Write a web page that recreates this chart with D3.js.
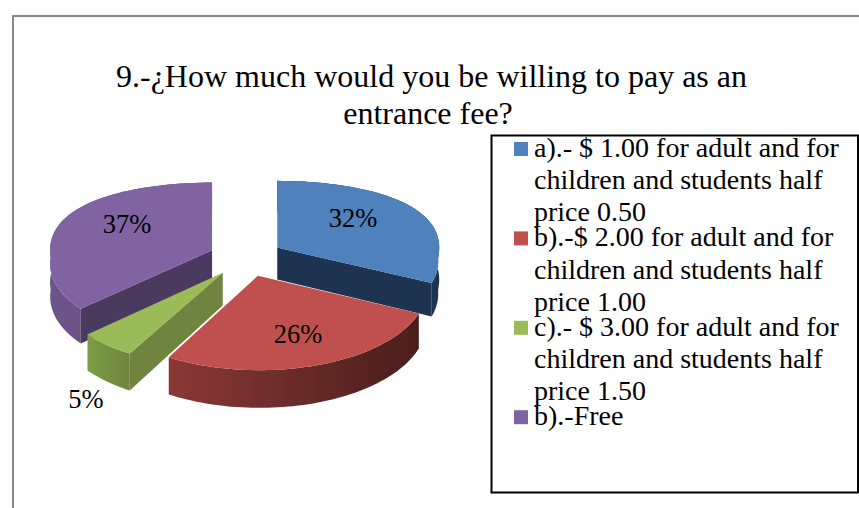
<!DOCTYPE html>
<html><head><meta charset="utf-8">
<script src="https://cdnjs.cloudflare.com/ajax/libs/d3/7.8.5/d3.min.js"></script>
<style>html,body{margin:0;padding:0;background:#fff;overflow:hidden}svg{display:block}text{font-family:"Liberation Serif",serif;fill:#000}</style>
</head><body><div id="c"></div>
<script>
const titleLines = ["9.-¿How much would you be willing to pay as an", "entrance fee?"];
const categories = [
  ["a).- $ 1.00 for adult and for", "children and students half", "price 0.50"],
  ["b).-$ 2.00 for adult and for", "children and students half", "price 1.00"],
  ["c).- $ 3.00 for adult and for", "children and students half", "price 1.50"],
  ["b).-Free"]
];
const values = [32, 26, 5, 37];
const topColors = ["#4F81BD", "#C0504D", "#9BBB59", "#8064A2"];
const faceColors = ["#1D334F", "#4A1E1C", "#6F853F", "#4B3A60"];
const wallFrom = ["#2A4568", "#8A3836", "#7E9C45", "#6D558A"];
const wallTo = ["#1D334F", "#4A1E1C", "#6F853F", "#5F4A7A"];
const labelPos = [[353, 227], [298, 343], [86, 408], [127, 233]];
const drawOrder = [3, 0, 2, 1];

const W = 859, H = 508;
const cx = 246, cy = 258, R = 162, k = 0.54, kFront = 0.49, kGrow = 0.0004, backP = 0.0015, frontP = 0.0009, explode = 37, depth = 32;
const svg = d3.select("#c").append("svg").attr("width", W).attr("height", H);
const defs = svg.append("defs");

svg.append("path").attr("d", `M13,${H}V16H${W}`).attr("fill", "none").attr("stroke", "#888").attr("stroke-width", 2);

const arcs = d3.pie().sort(null).value(d => d)(values);
function project(i, r, a, z) {
  const d = arcs[i], mid = (d.startAngle + d.endAngle) / 2;
  const X = r * Math.sin(a) + explode * Math.sin(mid);
  const Y = -r * Math.cos(a) - explode * Math.cos(mid);
  const s = 1 + frontP * Math.max(Y, 0);
  const dy = Y > 0 ? Y * (kFront + kGrow * Y) : k * Y / (1 - backP * Y);
  return [cx + X * s, cy + dy + z * s];
}
const line = d3.line();
const rim = (i, z) => d3.range(0, 61).map(t => project(i, R, d3.interpolate(arcs[i].startAngle, arcs[i].endAngle)(t / 60), z));

drawOrder.forEach(i => {
  const d = arcs[i], g = svg.append("g");
  const grad = defs.append("linearGradient").attr("id", "w" + i);
  grad.append("stop").attr("offset", 0).attr("stop-color", wallFrom[i]);
  grad.append("stop").attr("offset", 1).attr("stop-color", wallTo[i]);
  g.append("path").attr("d", line(rim(i, 0).concat(rim(i, depth).reverse())) + "Z").attr("fill", `url(#w${i})`);
  [[d.startAngle, Math.sin(d.startAngle) < -0.01], [d.endAngle, Math.sin(d.endAngle) > 0.01]].forEach(([a, show]) => {
    if (!show) return;
    g.append("path").attr("d", line([project(i, 0, a, 0), project(i, R, a, 0), project(i, R, a, depth), project(i, 0, a, depth)]) + "Z").attr("fill", faceColors[i]);
  });
  g.append("path").attr("d", line([project(i, 0, 0, 0)].concat(rim(i, 0))) + "Z").attr("fill", topColors[i]);
});

const title = svg.append("g").attr("font-size", 32).attr("text-anchor", "middle");
title.append("text").attr("x", 431.5).attr("y", 87).text(titleLines[0]);
title.append("text").attr("x", 428).attr("y", 124).text(titleLines[1]);

values.forEach((v, i) => svg.append("text").attr("x", labelPos[i][0]).attr("y", labelPos[i][1]).attr("text-anchor", "middle").attr("font-size", 26.5).text(v + "%"));

svg.append("rect").attr("x", 491.5).attr("y", 135.5).attr("width", 366.5).attr("height", 357).attr("fill", "none").attr("stroke", "#000").attr("stroke-width", 2);
const lineH = 32.2, entryGap = 25;
let base = 157;
categories.forEach((lines, i) => {
  svg.append("rect").attr("x", 514).attr("y", base - 15).attr("width", 14).attr("height", 14).attr("fill", topColors[i]);
  lines.forEach((t, j) => {
    svg.append("text").attr("x", 534).attr("y", base + j * lineH).attr("font-size", 28).text(t);
  });
  base += (lines.length - 1) * lineH + entryGap;
});
</script></body></html>
